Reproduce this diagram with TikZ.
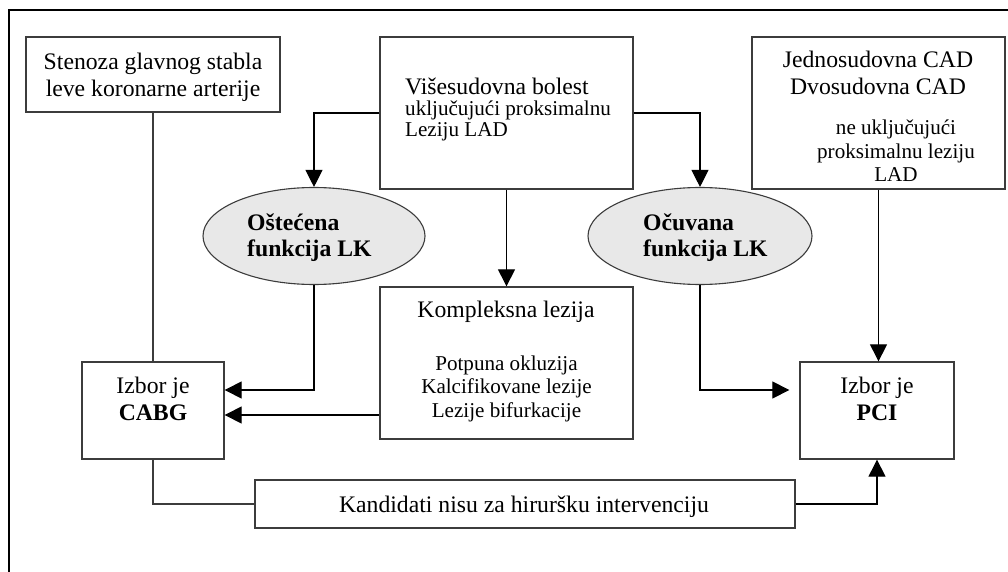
\documentclass[tikz,border=0pt]{standalone}
\usepackage{fontspec}
\setmainfont{Liberation Serif}
\usetikzlibrary{arrows.meta,shapes.geometric,calc}
\definecolor{edgegray}{RGB}{60,60,60}
\definecolor{ellfill}{RGB}{232,232,232}
\newcommand{\fsMain}{\fontsize{23.7}{27}\selectfont}
\newcommand{\fsSub}{\fontsize{21.1}{23.5}\selectfont}
\begin{document}
\begin{tikzpicture}[x=1pt,y=-1pt,
  box/.style={draw=edgegray, line width=1.3pt, inner sep=0pt},
  oval/.style={ellipse, draw=edgegray, fill=ellfill, line width=1.1pt, inner sep=0pt},
  txt/.style={inner sep=0pt, font=\fsMain, anchor=base},
  arr/.style={-{Triangle[length=17pt,width=17pt]}, line width=1.1pt, draw=black},
  conn/.style={line width=1.1pt, draw=edgegray}]
\useasboundingbox (0,0) rectangle (1008,572);
% outer frame (only left and top edges visible)
\draw[line width=2pt] (8.5,572) -- (8.5,10) -- (1008,10);

% boxes
\node[box, minimum width=254pt, minimum height=75pt] (sten) at (153,74.5) {};
\node[box, minimum width=253pt, minimum height=152pt] (vise) at (506.5,113) {};
\node[box, minimum width=253pt, minimum height=152pt] (jedno) at (878.5,113) {};
\node[oval, minimum width=222pt, minimum height=97pt] (ost) at (314,236) {};
\node[oval, minimum width=224pt, minimum height=97pt] (ocu) at (700,236) {};
\node[box, minimum width=253pt, minimum height=152pt] (komp) at (506.5,363) {};
\node[box, minimum width=142pt, minimum height=97pt] (cabg) at (153,410.5) {};
\node[box, minimum width=154pt, minimum height=97pt] (pci) at (877,410.5) {};
\node[box, minimum width=540pt, minimum height=48pt] (kand) at (525,504) {};

% texts
\node[txt] (sten-t) at (153,70) {\begin{tabular}[t]{@{}c@{}}Stenoza glavnog stabla\\leve koronarne arterije\end{tabular}};
\node[txt, anchor=base west] (vise-t) at (405,95) {\begin{tabular}[t]{@{}l@{}}Višesudovna bolest\\[-6pt]{\fsSub uključujući proksimalnu}\\[-6pt]{\fsSub Leziju LAD}\end{tabular}};
\node[txt] (jedno-t1) at (878,68) {\begin{tabular}[t]{@{}c@{}}Jednosudovna CAD\\Dvosudovna CAD\end{tabular}};
\node[txt, font=\fsSub] (jedno-t2) at (896,135) {\begin{tabular}[t]{@{}c@{}}ne uključujući\\proksimalnu leziju\\LAD\end{tabular}};
\node[txt, anchor=base west] (ost-t) at (247,230) {\begin{tabular}[t]{@{}l@{}}\textbf{Oštećena}\\[-0.5pt]\textbf{funkcija LK}\end{tabular}};
\node[txt, anchor=base west] (ocu-t) at (643,230) {\begin{tabular}[t]{@{}l@{}}\textbf{Očuvana}\\[-0.5pt]\textbf{funkcija LK}\end{tabular}};
\node[txt] (komp-t1) at (506,317) {Kompleksna lezija};
\node[txt, font=\fsSub] (komp-t2) at (506.5,370) {\begin{tabular}[t]{@{}c@{}}Potpuna okluzija\\Kalcifikovane lezije\\Lezije bifurkacije\end{tabular}};
\node[txt] (cabg-t) at (153,393) {\begin{tabular}[t]{@{}c@{}}Izbor je\\\textbf{CABG}\end{tabular}};
\node[txt] (pci-t) at (877,393) {\begin{tabular}[t]{@{}c@{}}Izbor je\\\textbf{PCI}\end{tabular}};
\node[txt] (kand-t) at (524,512) {Kandidati nisu za hiruršku intervenciju};

% connectors
\draw[conn] (sten.south) -- (cabg.north);
\draw[arr] (vise.west) -| (ost.north);
\draw[arr] (vise.east) -| (ocu.north);
\draw[arr] (vise.south) -- (komp.north);
\draw[arr] (ost.south) |- ([yshift=20.5pt]cabg.east);
\draw[arr] ([yshift=-52pt]komp.west) -- ([yshift=-52pt]komp.west -| cabg.east);
\draw[arr, shorten >=10pt] (ocu.south) |- ([yshift=20.5pt]pci.west);
\draw[arr] (jedno.south) -- (jedno.south |- pci.north);
\draw[conn] (cabg.south) |- (kand.west);
\draw[arr] (kand.east) -| (pci.south);
\end{tikzpicture}
\end{document}
